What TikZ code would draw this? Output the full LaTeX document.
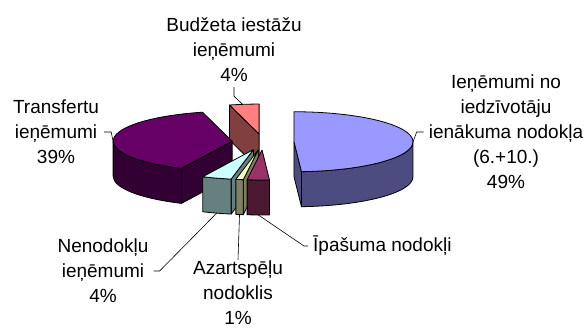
\documentclass[tikz,border=0pt]{standalone}
\usepackage{fontspec}
\setmainfont{Liberation Sans}
\usetikzlibrary{calc}
\definecolor{bluetop}{HTML}{9999FF}
\definecolor{blueside}{HTML}{4C4C80}
\definecolor{plumtop}{HTML}{660066}
\definecolor{plumside}{HTML}{330033}
\definecolor{rosetop}{HTML}{FF8080}
\definecolor{roseside}{HTML}{804040}
\definecolor{cyantop}{HTML}{CCFFFF}
\definecolor{cyanside}{HTML}{668080}
\definecolor{creamtop}{HTML}{FFFFCC}
\definecolor{creamside}{HTML}{808066}
\definecolor{winetop}{HTML}{993366}
\definecolor{wineside}{HTML}{4C1933}
\tikzset{
  face/.style={draw=black, line width=0.8pt, line join=round},
  leader/.style={draw=black, line width=0.6pt},
  lab/.style={align=center, inner sep=5pt, font=\fontsize{19}{25}\selectfont}
}
\begin{document}
\begin{tikzpicture}[x=1pt, y=-1pt, x radius=119, y radius=30]
	\useasboundingbox[fill=white] (0,0) rectangle (588,329);
	\coordinate (C) at (263,142);
	\coordinate (rose) at ($(C)+(262.8:31 and 8)$);
	\coordinate (plum) at ($(C)+(185.4:31 and 8)$);
	\coordinate (blue) at ($(C)+(-1.8:31 and 8)$);
	\coordinate (cyan) at ($(C)+(108:31 and 8)$);
	\coordinate (cream) at ($(C)+(99:31 and 8)$);
	\coordinate (wine) at ($(C)+(91.8:31 and 8)$);
	\draw[face, fill=roseside] (rose) -- ++(255.6:119 and 30) -- ++(0,35) -- ($(rose)+(0,35)$) -- cycle;
	\draw[face, fill=rosetop] (rose) -- ++(255.6:119 and 30) arc[start angle=255.6, end angle=270] -- cycle;
	\draw[face, fill=plumside] (plum) -- ++(115.2:119 and 30) -- ++(0,35) -- ($(plum)+(0,35)$) -- cycle;
	\draw[face, fill=plumside] (plum) ++(115.2:119 and 30) arc[start angle=115.2, end angle=180] -- ++(0,35) arc[start angle=180, end angle=115.2] -- cycle;
	\draw[face, fill=plumtop] (plum) -- ++(115.2:119 and 30) arc[start angle=115.2, end angle=255.6] -- cycle;
	\draw[face, fill=blueside] (blue) -- ++(86.4:119 and 30) -- ++(0,35) -- ($(blue)+(0,35)$) -- cycle;
	\draw[face, fill=blueside] (blue) ++(0:119 and 30) arc[start angle=0, end angle=86.4] -- ++(0,35) arc[start angle=86.4, end angle=0] -- cycle;
	\draw[face, fill=bluetop] (blue) -- ++(-90:119 and 30) arc[start angle=-90, end angle=86.4] -- cycle;
	\draw[face, fill=cyanside] (cyan) -- ++(100.8:119 and 30) -- ++(0,35) -- ($(cyan)+(0,35)$) -- cycle;
	\draw[face, fill=cyanside] (cyan) ++(100.8:119 and 30) arc[start angle=100.8, end angle=115.2] -- ++(0,35) arc[start angle=115.2, end angle=100.8] -- cycle;
	\draw[face, fill=cyantop] (cyan) -- ++(100.8:119 and 30) arc[start angle=100.8, end angle=115.2] -- cycle;
	\draw[face, fill=creamside] (cream) -- ++(97.2:119 and 30) -- ++(0,35) -- ($(cream)+(0,35)$) -- cycle;
	\draw[face, fill=creamside] (cream) ++(97.2:119 and 30) arc[start angle=97.2, end angle=100.8] -- ++(0,35) arc[start angle=100.8, end angle=97.2] -- cycle;
	\draw[face, fill=creamtop] (cream) -- ++(97.2:119 and 30) arc[start angle=97.2, end angle=100.8] -- cycle;
	\draw[face, fill=wineside] (wine) ++(86.4:119 and 30) arc[start angle=86.4, end angle=97.2] -- ++(0,35) arc[start angle=97.2, end angle=86.4] -- cycle;
	\draw[face, fill=winetop] (wine) -- ++(86.4:119 and 30) arc[start angle=86.4, end angle=97.2] -- cycle;
	\node[lab] (lbBud) at (234,50) {Budžeta iestāžu\\ieņēmumi\\4\%};
	\node[lab] (lbTra) at (56,132) {Transfertu\\ieņēmumi\\39\%};
	\node[lab] (lbIed) at (506,132) {Ieņēmumi no\\iedzīvotāju\\ienākuma nodokļa\\(6.+10.)\\49\%};
	\node[lab] (lbNen) at (103,271) {Nenodokļu\\ieņēmumi\\4\%};
	\node[lab, inner ysep=1pt] (lbAza) at (238,293) {Azartspēļu\\nodoklis\\1\%};
	\node[lab, anchor=west] (lbIpa) at (308,246) {Īpašuma nodokļi};
	\coordinate (tipBud) at ($(rose)+(262:119 and 30)$);
	\coordinate (tipTra) at ($(plum)+(180:119 and 30)$);
	\coordinate (tipIed) at ($(blue)+(0:119 and 30)$);
	\coordinate (tipNen) at ($(cyan)+(108:119 and 30)+(0,35)$);
	\coordinate (tipAza) at ($(cream)+(99:119 and 30)+(0,35)$);
	\coordinate (tipIpa) at ($(wine)+(91.8:119 and 30)+(0,35)$);
	\draw[leader] (lbBud.south) -- ++(0,9) -- (tipBud);
	\draw[leader] (lbTra.east) -- ++(7,0) -- (tipTra);
	\draw[leader] (lbIed.west) -- ++(-7,0) -- (tipIed);
	\draw[leader] (lbNen.east) -- ++(6,0) -- (tipNen);
	\draw[leader] (lbAza.north) -- (tipAza);
	\draw[leader] (lbIpa.west) -- ++(-4,0) -- (tipIpa);
\end{tikzpicture}
\end{document}
